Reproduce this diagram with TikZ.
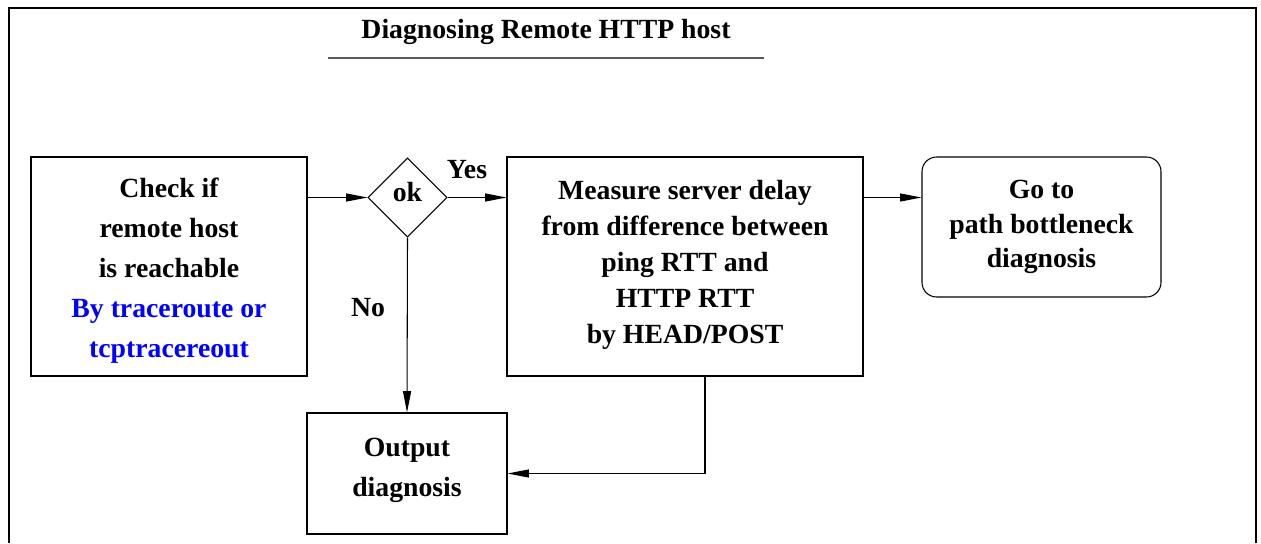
\documentclass[tikz,border=0pt]{standalone}
\usepackage{fontspec}
\setmainfont{Liberation Serif}
\usetikzlibrary{shapes.geometric,arrows.meta,calc}
\definecolor{linkblue}{RGB}{0,0,255}
\begin{document}
\begin{tikzpicture}[x=0.75pt,y=-0.75pt,
  box/.style={draw,line width=0.8pt,align=center,inner sep=0pt},
  tx/.style={font=\fontsize{20.8}{#1}\selectfont\bfseries},
  tx/.default=30,
  arr/.style={-{Triangle[length=16pt,width=6pt]},line width=0.8pt},
  frame/.style={line width=1.6pt}]
\useasboundingbox (0,0) rectangle (1261,543);
% frame
\draw[frame] (9,543) -- (9,8) -- (1256,8) -- (1256,543);
% title
\node[tx] (title) at (546,32) {Diagnosing Remote HTTP host};
\coordinate (ulA) at (328,58);
\coordinate (ulB) at (764,58);
\draw[gray!70!black,line width=0.8pt] (ulA) -- (ulB);
% nodes
\node[box,tx=30,minimum width=207pt,minimum height=164.25pt] (chk) at (169,266.5)
  {\rule{0pt}{20.5pt}Check if\\remote host\\is reachable\\\textcolor{linkblue}{By traceroute or}\\\textcolor{linkblue}{tcptracereout}};
\node[draw,line width=0.8pt,shape=diamond,minimum width=59.25pt,minimum height=59.25pt,inner sep=0pt] (dia) at (407.5,197.5) {};
\node[tx] (ok) at (407.5,192) {ok};
\node[box,tx=27,minimum width=267pt,minimum height=164.25pt] (meas) at (685,266.5)
  {Measure server delay\\from difference between\\ping RTT and\\HTTP RTT\\by HEAD/POST\rule[-7.5pt]{0pt}{0pt}};
\node[box,tx=26,rounded corners=11pt,minimum width=179.25pt,minimum height=105pt] (goto) at (1041.5,227)
  {Go to\\path bottleneck\\diagnosis};
\node[box,tx=30,minimum width=150pt,minimum height=90.75pt] (out) at (407,473.5)
  {Output\\diagnosis\rule[-9pt]{0pt}{0pt}};
% labels
\node[tx] (yes) at (467,170) {Yes};
\node[tx] (no) at (368,308) {No};
% connectors
\draw[arr] (chk.east |- dia.west) -- (dia.west);
\draw[arr] (dia.east) -- (meas.west |- dia.east);
\draw[arr] (meas.east |- dia.east) -- (goto.west |- dia.east);
\draw[arr] (dia.south) -- (out.north);
\draw[arr] ([xshift=15pt]meas.south) |- (out.east);
\end{tikzpicture}
\end{document}
